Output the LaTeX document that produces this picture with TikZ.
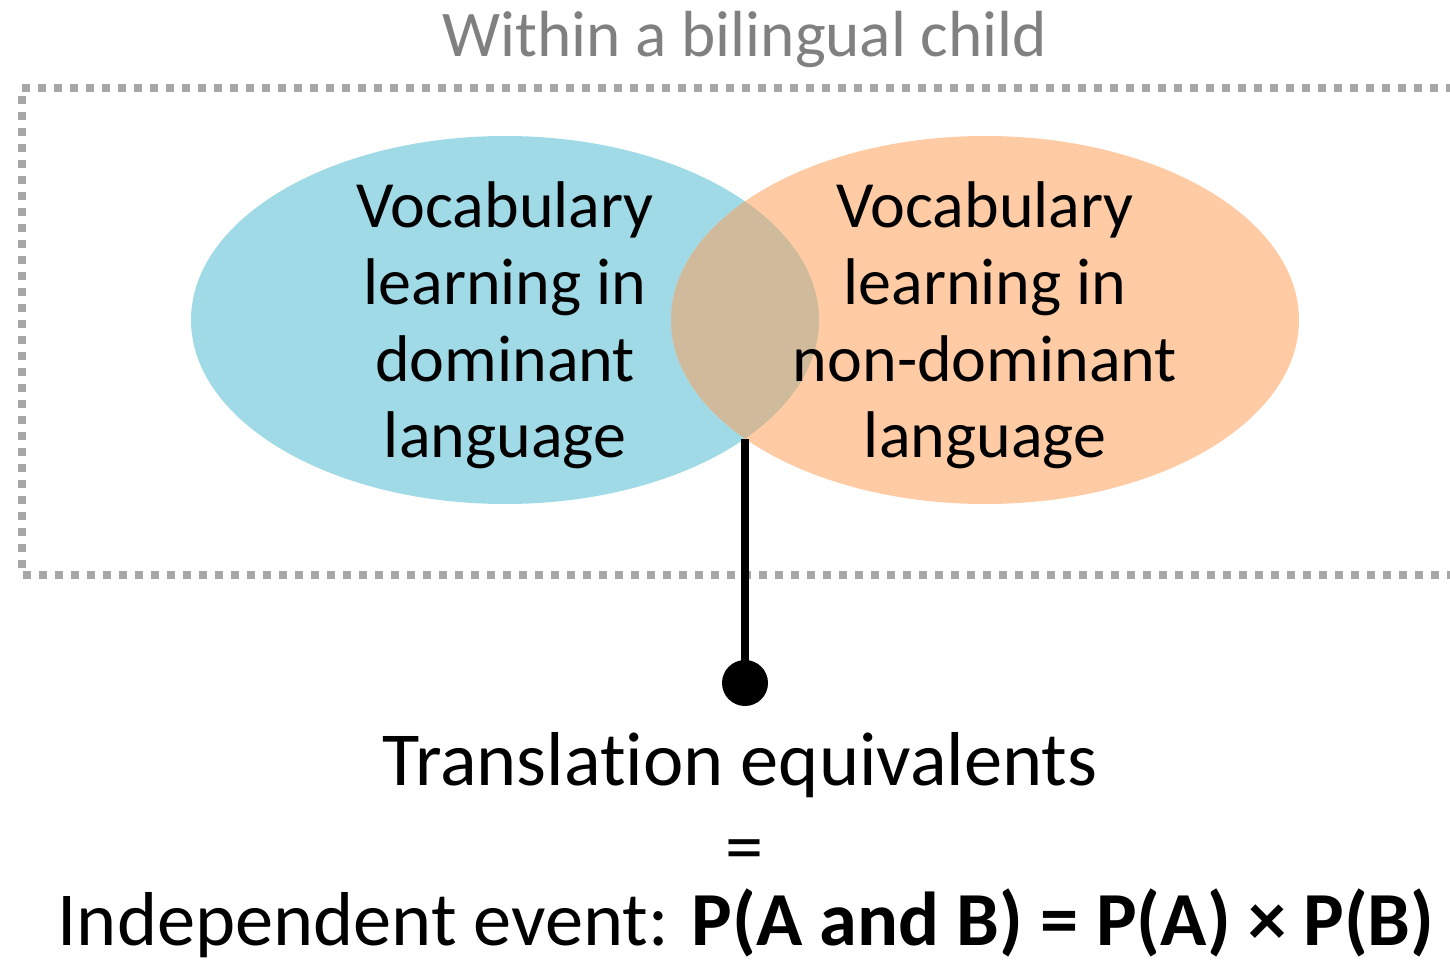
\documentclass[tikz,border=0pt]{standalone}
\usepackage{fontspec}
\setmainfont{Carlito}[Ligatures=NoCommon]
\usetikzlibrary{shapes.geometric}
\definecolor{domblue}{HTML}{A0DAE6}
\definecolor{nondomorange}{HTML}{FFCBA5}
\definecolor{overlapbrown}{HTML}{CFBB9B}
\definecolor{framegray}{HTML}{A6A6A6}
\definecolor{titlegray}{HTML}{808080}
\tikzset{
  vocab/.style={ellipse, inner sep=0pt, minimum width=314pt, minimum height=184pt},
  vocabtext/.style={align=center, inner sep=0pt, anchor=base,
    font=\fontsize{33}{38.5}\selectfont},
  frame/.style={draw=framegray, line width=4pt, dash pattern=on 4pt off 4pt},
  bigtext/.style={anchor=base, inner sep=0pt, font=\fontsize{38.2}{44}\selectfont},
}
\begin{document}
\begin{tikzpicture}[x=0.5pt, y=-0.5pt]
\useasboundingbox (0,0) rectangle (1450,962);
% caption above the frame
\node[anchor=base, inner sep=0pt, text=titlegray, font=\fontsize{32.6}{40}\selectfont]
  (title) at (745,57) {Within a bilingual child};
% dotted frame, open past the right edge
\draw[frame] (1470,88) -- (22,88) -- (22,575) -- (1470,575);
% the two vocabularies and their overlap
\node[vocab, fill=domblue] (dom) at (505,320) {};
\node[vocab, fill=nondomorange] (nondom) at (985,320) {};
\begin{scope}
  \clip (505,320) ellipse [x radius=314, y radius=184];
  \fill[overlapbrown] (985,320) ellipse [x radius=314, y radius=184];
\end{scope}
% labels: the base anchor sits on the last line
\node[vocabtext] (domtext) at (505,458) {Vocabulary\\learning in\\dominant\\language};
\node[vocabtext] (nondomtext) at (985,458) {Vocabulary\\learning in\\non-dominant\\language};
% stem from the overlap down to the result
\coordinate (meet) at (745,439);
\node[circle, fill=black, inner sep=0pt, minimum size=23pt] (dot) at (745,683) {};
\draw[line width=4pt] (meet) -- (dot.center);
% result
\node[bigtext] (te) at (740,785) {Translation equivalents};
\node[bigtext] (eq) at (745,872) {=};
\node[bigtext] (indep) at (746,945) {Independent event: \textbf{P(A and B) = P(A) × P(B)}};
\end{tikzpicture}
\end{document}
